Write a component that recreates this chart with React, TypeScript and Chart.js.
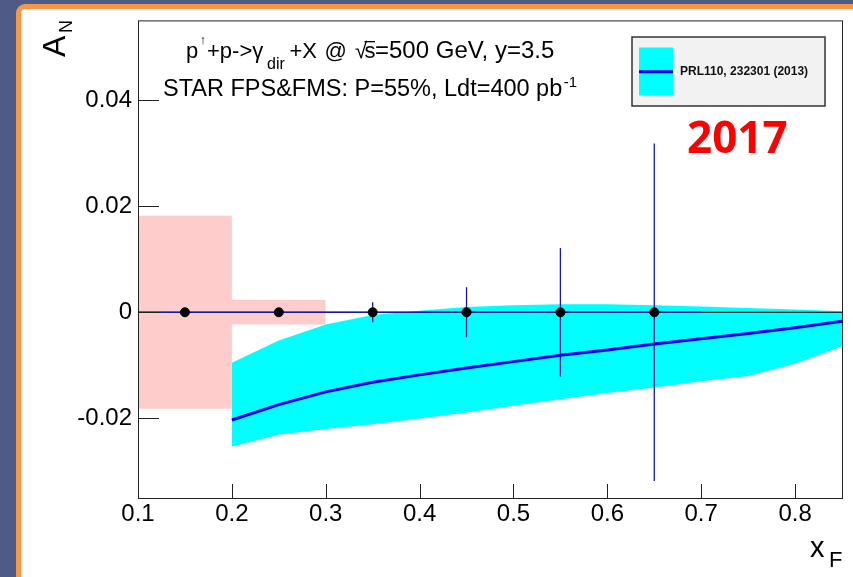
import { useEffect, useRef } from "react";
import { Chart, registerables } from "chart.js";

Chart.register(...registerables);

// ---- data ----
const binCenters = [0.15, 0.25, 0.35, 0.45, 0.55, 0.65];
const asymValues = [0, 0, 0, 0, 0, 0];
const statErrors = [0.0003, 0.0005, 0.0019, 0.0047, 0.0121, 0.0318];
const binHalfWidth = 0.05;

const sysEdges = [0.1, 0.2, 0.3];
const sysHalfHeights = [0.0182, 0.0023];

const theoryX = [0.2, 0.25, 0.3, 0.35, 0.4, 0.45, 0.5, 0.55, 0.6, 0.65, 0.7, 0.75, 0.8, 0.85];
const theoryCentral = [-0.0203, -0.0174, -0.015, -0.0132, -0.0118, -0.0105, -0.0093, -0.0081, -0.0071, -0.006, -0.005, -0.004, -0.0029, -0.0017];
const theoryLower = [-0.0253, -0.0231, -0.022, -0.0211, -0.02, -0.0189, -0.0176, -0.0164, -0.0152, -0.0142, -0.013, -0.012, -0.0097, -0.0064];
const theoryUpper = [-0.0095, -0.0053, -0.0023, -0.0005, 0.0003, 0.001, 0.0013, 0.0015, 0.0015, 0.0013, 0.0011, 0.0008, 0.0005, 0.0002];

const zeroLineX = [0.1, 0.85];

const xRange = [0.1, 0.85];
const yRange = [-0.035, 0.055];
const xStep = 0.1;
const yStep = 0.02;

const legendLabel = "PRL110, 232301 (2013)";
const yearLabel = "2017";
const line1 = "STAR FPS&FMS: P=55%, Ldt=400 pb";

const FONT = '"Liberation Sans", Arial, Helvetica, sans-serif';
const ERR_COLOR = "#1a1aa0";
const POINTS_INDEX = 6;

function stepPoints(edges: number[], vals: number[], sign: number) {
  return edges.map((e, i) => ({ x: e, y: sign * vals[Math.min(i, vals.length - 1)] }));
}

const rootStyle = {
  id: "rootStyle",
  beforeDatasetDraw(chart: any, args: any) {
    if (args.index !== POINTS_INDEX) return;
    const { ctx } = chart;
    const x = chart.scales.x;
    const y = chart.scales.y;
    ctx.save();
    ctx.strokeStyle = ERR_COLOR;
    ctx.lineWidth = 1.3;
    binCenters.forEach((c, i) => {
      const px = x.getPixelForValue(c);
      const py = y.getPixelForValue(asymValues[i]);
      ctx.beginPath();
      ctx.moveTo(x.getPixelForValue(c - binHalfWidth), py);
      ctx.lineTo(x.getPixelForValue(c + binHalfWidth), py);
      ctx.moveTo(px, y.getPixelForValue(asymValues[i] - statErrors[i]));
      ctx.lineTo(px, y.getPixelForValue(asymValues[i] + statErrors[i]));
      ctx.stroke();
    });
    ctx.restore();
  },
  afterDatasetsDraw(chart: any) {
    const { ctx, chartArea } = chart;
    const { left, right, top, bottom } = chartArea;
    const x = chart.scales.x;
    const y = chart.scales.y;
    ctx.save();
    ctx.strokeStyle = "#222";
    ctx.lineWidth = 1;
    ctx.strokeRect(left + 0.5, top + 0.5, right - left, bottom - top);
    ctx.beginPath();
    y.ticks.forEach((t: any) => {
      const py = Math.round(y.getPixelForValue(t.value)) + 0.5;
      ctx.moveTo(left, py);
      ctx.lineTo(left + 21, py);
    });
    x.ticks.forEach((t: any) => {
      const px = Math.round(x.getPixelForValue(t.value)) + 0.5;
      ctx.moveTo(px, bottom);
      ctx.lineTo(px, bottom - 14);
    });
    ctx.stroke();
    ctx.restore();
  },
  afterDraw(chart: any) {
    const { ctx } = chart;
    ctx.save();
    ctx.fillStyle = "#000";
    ctx.textBaseline = "alphabetic";
    ctx.textAlign = "left";

    // y-axis title A_N
    ctx.save();
    ctx.translate(65, 57);
    ctx.rotate(-Math.PI / 2);
    ctx.font = `32px ${FONT}`;
    ctx.fillText("A", 0, 0);
    ctx.font = `18px ${FONT}`;
    ctx.fillText("N", 24, 7);
    ctx.restore();

    // x-axis title x_F
    ctx.font = `29px ${FONT}`;
    ctx.fillText("x", 810, 557);
    ctx.font = `22px ${FONT}`;
    ctx.fillText("F", 829, 567);

    // annotation line 1
    ctx.font = `22px ${FONT}`;
    ctx.fillText("p", 186, 58);
    ctx.font = `13px ${FONT}`;
    ctx.textAlign = "center";
    ctx.fillText("\u2191", 203, 44);
    ctx.textAlign = "left";
    ctx.font = `22px ${FONT}`;
    ctx.fillText("+p->\u03b3", 207, 58);
    ctx.font = `16px ${FONT}`;
    ctx.fillText("dir", 267, 69);
    ctx.font = `22px ${FONT}`;
    ctx.fillText("+X", 289.5, 58);
    ctx.fillText("@", 324.5, 58);
    ctx.fillText("\u221a", 355, 58);
    ctx.fillText("s", 364.5, 58);
    ctx.fillRect(364.5, 41, 10.5, 1.3);
    ctx.font = `24px ${FONT}`;
    ctx.fillText("=500 GeV, y=3.5", 375, 58);

    // annotation line 2
    ctx.font = `23.5px ${FONT}`;
    ctx.fillText(line1, 163, 96);
    const w = ctx.measureText(line1).width;
    ctx.font = `15px ${FONT}`;
    ctx.fillText("-1", 163 + w + 1.5, 87);

    // legend box
    ctx.fillStyle = "#f2f2f2";
    ctx.fillRect(632, 37, 193, 69);
    ctx.strokeStyle = "#333";
    ctx.lineWidth = 1.5;
    ctx.strokeRect(632, 37, 193, 69);
    ctx.fillStyle = "#00ffff";
    ctx.fillRect(639, 47.5, 34, 48);
    ctx.strokeStyle = "#0000ee";
    ctx.lineWidth = 3;
    ctx.beginPath();
    ctx.moveTo(639, 71.7);
    ctx.lineTo(673, 71.7);
    ctx.stroke();
    ctx.fillStyle = "#000";
    ctx.beginPath();
    ctx.arc(656, 71.7, 0.8, 0, Math.PI * 2);
    ctx.fill();
    ctx.fillStyle = "#111";
    ctx.font = `bold 12px ${FONT}`;
    ctx.textBaseline = "middle";
    ctx.fillText(legendLabel, 680, 72);

    // year
    ctx.textBaseline = "alphabetic";
    ctx.fillStyle = "#ff0000";
    ctx.font = `bold 44px "Open Sans", ${FONT}`;
    ctx.fillText(yearLabel, 687, 153);

    ctx.restore();
  },
};

export default function App() {
  const canvasRef = useRef<HTMLCanvasElement | null>(null);

  useEffect(() => {
    if (!canvasRef.current) return;
    const transparent = "rgba(0,0,0,0)";
    const chart = new Chart(canvasRef.current, {
      type: "line",
      data: {
        datasets: [
          {
            label: "sys upper",
            data: stepPoints(sysEdges, sysHalfHeights, 1),
            stepped: "before",
            borderColor: transparent,
            borderWidth: 0,
            pointRadius: 0,
            fill: false,
            order: 6,
          },
          {
            label: "sys lower",
            data: stepPoints(sysEdges, sysHalfHeights, -1),
            stepped: "before",
            borderColor: transparent,
            borderWidth: 0,
            pointRadius: 0,
            backgroundColor: "#ffcccc",
            fill: "-1",
            order: 5,
          },
          {
            label: "theory upper",
            data: theoryX.map((x, i) => ({ x, y: theoryUpper[i] })),
            borderColor: transparent,
            borderWidth: 0,
            pointRadius: 0,
            fill: false,
            order: 4,
          },
          {
            label: "theory lower",
            data: theoryX.map((x, i) => ({ x, y: theoryLower[i] })),
            borderColor: transparent,
            borderWidth: 0,
            pointRadius: 0,
            backgroundColor: "#00ffff",
            fill: "-1",
            order: 3,
          },
          {
            label: legendLabel,
            data: theoryX.map((x, i) => ({ x, y: theoryCentral[i] })),
            borderColor: "#0000f0",
            borderWidth: 3,
            pointRadius: 0,
            fill: false,
            order: 2,
          },
          {
            label: "zero",
            data: zeroLineX.map((x) => ({ x, y: 0 })),
            borderColor: "#000",
            borderWidth: 1,
            pointRadius: 0,
            fill: false,
            order: 1,
          },
          {
            label: "STAR projection",
            data: binCenters.map((x, i) => ({ x, y: asymValues[i] })),
            showLine: false,
            pointRadius: 4.5,
            pointBorderWidth: 1,
            pointBackgroundColor: "#000",
            pointBorderColor: "#000",
            fill: false,
            order: 0,
          },
        ],
      },
      options: {
        responsive: false,
        animation: false,
        events: [],
        layout: { padding: { left: 0, top: 20, right: 11, bottom: 0 } },
        plugins: {
          legend: { display: false },
          tooltip: { enabled: false },
          title: { display: false },
        },
        scales: {
          x: {
            type: "linear",
            min: xRange[0],
            max: xRange[1],
            grid: { display: false, drawTicks: false },
            border: { display: false },
            ticks: {
              stepSize: xStep,
              includeBounds: false,
              autoSkip: false,
              maxRotation: 0,
              padding: 2,
              color: "#000",
              font: { family: FONT, size: 24 },
              callback: (v: any) => Number(v).toFixed(1),
            },
            afterFit: (s: any) => {
              s.height = 79;
            },
          },
          y: {
            type: "linear",
            min: yRange[0],
            max: yRange[1],
            grid: { display: false, drawTicks: false },
            border: { display: false },
            ticks: {
              stepSize: yStep,
              includeBounds: false,
              padding: 6,
              color: "#000",
              font: { family: FONT, size: 24 },
              callback: (v: any) => (Math.abs(Number(v)) < 1e-9 ? "0" : Number(v).toFixed(2)),
            },
            afterFit: (s: any) => {
              s.width = 138;
            },
          },
        },
      },
      plugins: [rootStyle],
    } as any);
    return () => chart.destroy();
  }, []);

  return (
    <div
      style={{
        position: "fixed",
        left: 0,
        top: 0,
        width: 853,
        height: 577,
        overflow: "hidden",
        background: "#4f5b86",
      }}
    >
      <div
        style={{
          position: "absolute",
          left: 16,
          top: 4,
          width: 860,
          height: 600,
          boxSizing: "border-box",
          border: "5px solid #f79646",
          borderRadius: 9,
          background: "#ffffff",
        }}
      />
      <canvas
        ref={canvasRef}
        width={853}
        height={577}
        style={{ position: "absolute", left: 0, top: 0, width: 853, height: 577 }}
      />
    </div>
  );
}
